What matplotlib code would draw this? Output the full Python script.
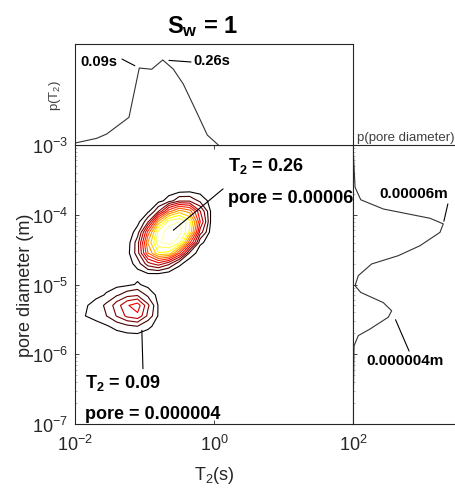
import numpy as np
import matplotlib.pyplot as plt
from matplotlib.ticker import LogLocator, NullFormatter, NullLocator
from matplotlib import colormaps

plt.rcParams['font.family'] = ['Liberation Sans', 'DejaVu Sans']
plt.rcParams['mathtext.fontset'] = 'custom'
plt.rcParams['mathtext.rm'] = 'Liberation Sans'
plt.rcParams['mathtext.it'] = 'Liberation Sans:italic'
plt.rcParams['mathtext.bf'] = 'Liberation Sans:bold'

# marginal distribution of T2 (top panel)
t2_marg = [0.0101, 0.0205, 0.0286, 0.0598, 0.0841, 0.127, 0.183, 0.259, 0.361, 0.564, 0.800, 1.153]
p_t2 = [0.02, 0.066, 0.109, 0.274, 0.762, 0.75, 0.842, 0.752, 0.604, 0.324, 0.099, 0.0]

# marginal distribution of pore diameter (right panel)
pore_marg = [1e-3, 2.48e-4, 1.64e-4, 1.21e-4, 8.9e-5, 7.4e-5, 5.6e-5, 3.6e-5, 2.59e-5, 1.97e-5,
             1.34e-5, 9.6e-6, 7.7e-6, 5.5e-6, 4.2e-6, 3.4e-6, 2.3e-6, 1.85e-6, 1.32e-6, 1e-7]
p_pore = [0.0, 0.02, 0.076, 0.297, 0.755, 0.885, 0.853, 0.657, 0.444, 0.183,
          0.052, 0.02, 0.076, 0.297, 0.379, 0.346, 0.167, 0.052, 0.01, 0.0]

# joint T2 / pore diameter density on a log10 grid (percent of max)
log_t2 = [-2.0, -1.85, -1.7, -1.55, -1.4, -1.25, -1.1, -0.95, -0.8, -0.65, -0.5, -0.35, -0.2, -0.05, 0.1, 0.25]
log_pore = [-5.9, -5.75, -5.6, -5.45, -5.3, -5.15, -5.0, -4.85, -4.7, -4.55, -4.4, -4.25, -4.1, -3.95, -3.8, -3.65, -3.5]
density = [
    [0, 0, 0, 0, 0, 0, 0, 0, 0, 0, 0, 0, 0, 0, 0, 0],
    [0, 0, 0, 1, 1, 2, 2, 1, 0, 0, 0, 0, 0, 0, 0, 0],
    [0, 0, 2, 4, 8, 11, 13, 7, 1, 0, 0, 0, 0, 0, 0, 0],
    [0, 5, 8, 13, 22, 32, 36, 19, 4, 0, 0, 0, 0, 0, 0, 0],
    [1, 4, 9, 15, 26, 37, 42, 23, 4, 0, 0, 0, 0, 0, 0, 0],
    [0, 1, 2, 6, 12, 18, 20, 11, 2, 0, 0, 0, 0, 0, 0, 0],
    [0, 0, 0, 1, 2, 3, 6, 2, 0, 0, 0, 0, 0, 0, 0, 0],
    [0, 0, 0, 0, 0, 0, 2, 4, 4, 1, 0, 0, 0, 0, 0, 0],
    [0, 0, 0, 0, 0, 1, 9, 27, 35, 24, 7, 0, 0, 0, 0, 0],
    [0, 0, 0, 0, 0, 2, 18, 54, 78, 76, 47, 11, 0, 0, 0, 0],
    [0, 0, 0, 0, 0, 1, 18, 63, 94, 99, 89, 48, 7, 0, 0, 0],
    [0, 0, 0, 0, 0, 0, 9, 49, 90, 100, 99, 77, 26, 2, 0, 0],
    [0, 0, 0, 0, 0, 0, 2, 20, 64, 91, 95, 81, 38, 5, 0, 0],
    [0, 0, 0, 0, 0, 0, 0, 3, 21, 51, 66, 58, 30, 5, 0, 0],
    [0, 0, 0, 0, 0, 0, 0, 0, 2, 9, 20, 20, 11, 2, 0, 0],
    [0, 0, 0, 0, 0, 0, 0, 0, 0, 0, 1, 2, 1, 0, 0, 0],
    [0, 0, 0, 0, 0, 0, 0, 0, 0, 0, 0, 0, 0, 0, 0, 0],
]

# picked peaks
peak_big = (0.26, 6e-5)
peak_small = (0.09, 4e-6)

W, H = 455, 489
fig = plt.figure(figsize=(W / 100, H / 100), dpi=100)

def box(x0, y0, x1, y1):
    # pixel box (top-left origin) -> figure fraction rect
    return [x0 / W, 1 - y1 / H, (x1 - x0) / W, (y1 - y0) / H]

def at(x, y):
    return x / W, 1 - y / H

grey = '#262626'
ax = fig.add_axes(box(75, 146, 353, 425))
ax_top = fig.add_axes(box(75, 45, 353, 146))
ax_r = fig.add_axes(box(353, 146, 470, 425))

# joint density contours, hot colormap from black (low) to pale yellow (high)
T2g, PORg = np.meshgrid(10.0 ** np.array(log_t2), 10.0 ** np.array(log_pore))
levels = np.linspace(5, 95, 12)
hot = colormaps['hot']
cols = [hot(i / 12) for i in range(12)]
ax.contour(T2g, PORg, np.array(density), levels=levels, colors=cols, linewidths=0.8)

ax.set_xscale('log')
ax.set_yscale('log')
ax.set_xlim(1e-2, 1e2)
ax.set_ylim(1e-7, 1e-3)
ax.set_xticks([1e-2, 1e0, 1e2])
ax.set_yticks([1e-7, 1e-6, 1e-5, 1e-4, 1e-3])
ax.xaxis.set_minor_locator(NullLocator())
ax.yaxis.set_minor_locator(LogLocator(subs=np.arange(2, 10)))
ax.yaxis.set_minor_formatter(NullFormatter())
ax.tick_params(which='major', direction='in', top=True, right=False, colors=grey,
               labelsize=13, width=0.6, length=3)
ax.tick_params(which='minor', direction='in', right=False, length=1.5, width=0.5, color='#999999')
ax.tick_params(axis='x', pad=7)
ax.tick_params(axis='y', pad=5)
for s in ax.spines.values():
    s.set_color(grey)
    s.set_linewidth(0.8)

ax.annotate('', xy=peak_big, xytext=(1.35, 2.35e-4),
            arrowprops=dict(arrowstyle='-', color='k', lw=0.8, shrinkA=0, shrinkB=0))
ax.annotate('', xy=peak_small, xytext=(0.095, 6.2e-7),
            arrowprops=dict(arrowstyle='-', color='k', lw=0.8, shrinkA=0, shrinkB=13))

# top marginal
ax_top.plot(t2_marg, p_t2, color='#333333', lw=0.8)
ax_top.set_xscale('log')
ax_top.set_xlim(1e-2, 1e2)
ax_top.set_ylim(0, 1)
ax_top.xaxis.set_major_locator(NullLocator())
ax_top.xaxis.set_minor_locator(NullLocator())
ax_top.yaxis.set_major_locator(NullLocator())
for s in ax_top.spines.values():
    s.set_color(grey)
    s.set_linewidth(0.8)
ax_top.annotate('', xy=(0.0841, 0.762), xytext=(0.0474, 0.851),
                arrowprops=dict(arrowstyle='-', color='k', lw=0.8, shrinkA=0, shrinkB=3.6))
ax_top.annotate('', xy=(0.183, 0.842), xytext=(0.467, 0.822),
                arrowprops=dict(arrowstyle='-', color='k', lw=0.8, shrinkA=0, shrinkB=4.5))

# right marginal
ax_r.plot(p_pore, pore_marg, color='#333333', lw=0.8)
ax_r.set_yscale('log')
ax_r.set_ylim(1e-7, 1e-3)
ax_r.set_xlim(0, 117 / 102)
ax_r.xaxis.set_major_locator(NullLocator())
ax_r.yaxis.set_minor_locator(LogLocator(subs=np.arange(2, 10)))
ax_r.yaxis.set_major_formatter(NullFormatter())
ax_r.yaxis.set_minor_formatter(NullFormatter())
ax_r.tick_params(which='major', direction='in', colors=grey, width=0.6, length=3)
ax_r.tick_params(which='minor', direction='in', length=1.5, width=0.5, color='#999999')
for s in ax_r.spines.values():
    s.set_color(grey)
    s.set_linewidth(0.8)
ax_r.spines['right'].set_visible(False)
ax_r.annotate('', xy=(0.885, 7.4e-5), xytext=(0.93, 1.43e-4),
              arrowprops=dict(arrowstyle='-', color='k', lw=0.8, shrinkA=0, shrinkB=2))
ax_r.annotate('', xy=(0.379, 4.2e-6), xytext=(0.55, 1.11e-6),
              arrowprops=dict(arrowstyle='-', color='k', lw=0.8, shrinkA=0, shrinkB=7))

# labels
fig.text(*at(202, 33), r'$\mathbf{S_w}$ = 1', fontsize=17, fontweight='bold', ha='center', va='baseline')
fig.text(*at(214, 480), r'T$_2$(s)', fontsize=13, color=grey, ha='center', va='baseline')
fig.text(*at(26, 285.5), 'pore diameter (m)', fontsize=13, color=grey, rotation=90,
         ha='center', va='center')
fig.text(*at(55, 95), r'p(T$_2$)', fontsize=9.5, color='#404040', rotation=90,
         ha='center', va='center')
fig.text(*at(357, 141), 'p(pore diameter)', fontsize=9.5, color='#404040', ha='left', va='baseline')

fig.text(*at(80, 66), '0.09s', fontsize=10.5, fontweight='bold', va='baseline')
fig.text(*at(193, 65), '0.26s', fontsize=10.5, fontweight='bold', va='baseline')
fig.text(*at(228, 171), r'$\mathbf{T_2}$ = 0.26', fontsize=13, fontweight='bold', va='baseline')
fig.text(*at(228, 203), 'pore = 0.00006', fontsize=13, fontweight='bold', va='baseline')
fig.text(*at(85, 388), r'$\mathbf{T_2}$ = 0.09', fontsize=13, fontweight='bold', va='baseline')
fig.text(*at(85, 419), 'pore = 0.000004', fontsize=13, fontweight='bold', va='baseline')
fig.text(*at(379, 198.5), '0.00006m', fontsize=11, fontweight='bold', va='baseline')
fig.text(*at(366, 365.5), '0.000004m', fontsize=11, fontweight='bold', va='baseline')

fig.savefig('out.png', dpi=100)
